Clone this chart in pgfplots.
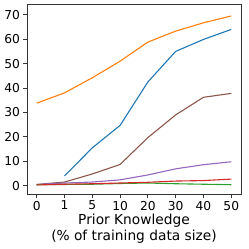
\documentclass[border=0pt]{standalone}
\usepackage{fontspec}
\setmainfont{DejaVu Sans}
\usepackage{pgfplots}
\pgfplotsset{compat=1.18}
\definecolor{tabblue}{HTML}{1F77B4}
\definecolor{taborange}{HTML}{FF7F0E}
\definecolor{tabgreen}{HTML}{2CA02C}
\definecolor{tabred}{HTML}{D62728}
\definecolor{tabpurple}{HTML}{9467BD}
\definecolor{tabbrown}{HTML}{8C564B}
\begin{document}
\begin{tikzpicture}
\path[use as bounding box] (-27bp,-55bp) rectangle (222bp,194bp);
\begin{axis}[
  at={(0,0)}, anchor=south west,
  scale only axis, width=214bp, height=190bp,
  xmin=-0.35, xmax=7.35, ymin=-3.4, ymax=74.4,
  xtick={0,1,2,3,4,5,6,7},
  xticklabels={0,1,5,10,20,30,40,50},
  ytick={0,10,20,30,40,50,60,70},
  tick label style={font=\fontsize{12.3}{14}\selectfont},
  /pgf/number format/assume math mode=true,
  label style={font=\fontsize{13.8}{16}\selectfont},
  xlabel={Prior Knowledge\\(\% of training data size)},
  xlabel style={align=center, yshift=3bp},
  tick align=outside, tick pos=left,
  major tick length=3.5bp,
  axis line style={line width=0.8bp, black!80},
  every tick/.style={black!80, line width=0.8bp},
  every axis plot/.append style={line width=1.1bp, mark=none},
]
\addplot[taborange] coordinates {(0,33.8)(1,38)(2,44.2)(3,51)(4,58.8)(5,63.3)(6,66.7)(7,69.5)};
\addplot[tabblue] coordinates {(1,4)(2,15.5)(3,24.7)(4,42.5)(5,55)(6,59.9)(7,64)};
\addplot[tabbrown] coordinates {(0,0.5)(1,1.5)(2,4.8)(3,8.7)(4,19.7)(5,29)(6,36.2)(7,37.8)};
\addplot[tabpurple] coordinates {(0,0.5)(1,1.1)(2,1.5)(3,2.4)(4,4.4)(5,6.9)(6,8.6)(7,9.8)};
\addplot[tabgreen] coordinates {(0,0.4)(1,0.5)(2,0.6)(3,0.9)(4,1.1)(5,0.8)(6,0.6)(7,0.4)};
\addplot[tabred] coordinates {(0,0.3)(1,0.6)(2,0.8)(3,1.1)(4,1.4)(5,1.9)(6,2.1)(7,2.7)};
\end{axis}
\end{tikzpicture}
\end{document}
